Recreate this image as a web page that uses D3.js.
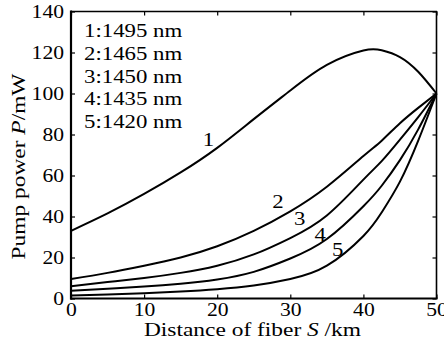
<!doctype html>
<html>
<head>
<meta charset="utf-8">
<script src="https://d3js.org/d3.v7.min.js"></script>
<style>
  body { margin: 0; background: #fff; }
  text { font-family: "Liberation Serif", "DejaVu Serif", serif; fill: #000; }
</style>
</head>
<body>
<svg id="chart" width="444" height="349"></svg>
<script>
// distance along the fiber, km
var distance = [0, 5, 10, 15, 20, 25, 30, 35, 40, 42.5, 45, 47.5, 50];
// pump power, mW, one list per pump wavelength
var pump1 = [33, 41.5, 51, 61.5, 73.5, 87.5, 101.5, 114, 121, 121.1, 117.8, 110.6, 100];
var pump2 = [9.5, 12.5, 16, 20, 25.5, 33, 42.5, 54.5, 69.5, 77, 85.5, 93, 100];
var pump3 = [6, 8, 10, 12.5, 16, 21.5, 29.5, 40.5, 58, 67, 77.5, 88.5, 100];
var pump4 = [3.8, 4.8, 5.8, 7.2, 9.3, 13, 19.5, 29, 45, 55, 67.5, 82.5, 100];
var pump5 = [1.5, 2, 2.6, 3.4, 4.5, 6.3, 9.5, 16, 30.5, 42, 57, 77, 100];
var series = [pump1, pump2, pump3, pump4, pump5];
var seriesNames = ["1", "2", "3", "4", "5"];
var wavelengths = [1495, 1465, 1450, 1435, 1420];
// where each curve number sits [S, P]
var labelAt = [[18.8, 77.4], [28.3, 47.6], [31.3, 39.2], [34.1, 31.1], [36.5, 23.8]];
var xTicks = [0, 10, 20, 30, 40, 50];
var yTicks = [0, 20, 40, 60, 80, 100, 120, 140];

var STRETCH = 1.2;  // the original font is wider than Times

var svg = d3.select('#chart');
var x = d3.scaleLinear().domain([0, 50]).range([71, 436.5]);
var y = d3.scaleLinear().domain([0, 140]).range([298.5, 11.5]);

// axes with inward ticks on all four sides
var gb = svg.append('g').attr('transform', 'translate(0,298.5)')
  .call(d3.axisBottom(x).tickValues(xTicks).tickSizeInner(-4).tickSizeOuter(0).tickPadding(5));
var gt = svg.append('g').attr('transform', 'translate(0,11.5)')
  .call(d3.axisTop(x).tickValues(xTicks).tickSizeInner(-4).tickSizeOuter(0).tickFormat(''));
var gl = svg.append('g').attr('transform', 'translate(71,0)')
  .call(d3.axisLeft(y).tickValues(yTicks).tickSizeInner(-4).tickSizeOuter(0).tickPadding(7));
var gr = svg.append('g').attr('transform', 'translate(436.5,0)')
  .call(d3.axisRight(y).tickValues(yTicks).tickSizeInner(-4).tickSizeOuter(0).tickFormat(''));

[gb, gt, gl, gr].forEach(g => {
  g.select('.domain').remove();
  g.selectAll('line').attr('stroke', '#000').attr('stroke-width', 1.2);
  g.selectAll('text').attr('font-size', 18).attr('font-family', null);
});

// frame
svg.append('line').attr('x1', 71).attr('x2', 71).attr('y1', 10.5).attr('y2', 299.5)
  .attr('stroke', '#000').attr('stroke-width', 2.2);
svg.append('line').attr('x1', 70).attr('x2', 437.5).attr('y1', 298.5).attr('y2', 298.5)
  .attr('stroke', '#000').attr('stroke-width', 2.2);
svg.append('line').attr('x1', 71).attr('x2', 437).attr('y1', 11.5).attr('y2', 11.5)
  .attr('stroke', '#000').attr('stroke-width', 1.6);
svg.append('line').attr('x1', 436.5).attr('x2', 436.5).attr('y1', 11).attr('y2', 299)
  .attr('stroke', '#000').attr('stroke-width', 1.6);

// curves
var line = d3.line()
  .x((d, i) => x(distance[i]))
  .y(d => y(d))
  .curve(d3.curveNatural);

svg.selectAll('path.curve')
  .data(series)
  .enter()
  .append('path')
  .attr('class', 'curve')
  .attr('d', line)
  .attr('fill', 'none')
  .attr('stroke', '#000')
  .attr('stroke-width', 2);

// curve numbers
svg.selectAll('text.num')
  .data(labelAt)
  .enter()
  .append('text')
  .attr('class', 'num')
  .attr('x', d => x(d[0]))
  .attr('y', d => y(d[1]))
  .attr('dy', '0.35em')
  .attr('text-anchor', 'middle')
  .attr('font-size', 19)
  .text((d, i) => seriesNames[i]);

// legend
svg.selectAll('text.legend')
  .data(wavelengths)
  .enter()
  .append('text')
  .attr('class', 'legend')
  .attr('x', 84)
  .attr('y', (d, i) => 37 + i * 22.8)
  .attr('font-size', 19)
  .text((d, i) => seriesNames[i] + ':' + d + ' nm');

// axis titles
var xt = svg.append('text')
  .attr('x', 252.5).attr('y', 336)
  .attr('text-anchor', 'middle')
  .attr('font-size', 19.5);
xt.append('tspan').text('Distance of fiber ');
xt.append('tspan').attr('font-style', 'italic').text('S');
xt.append('tspan').text(' /km');

var yt = svg.append('text')
  .attr('transform', 'translate(25,166.5) rotate(-90)')
  .attr('text-anchor', 'middle')
  .attr('font-size', 19.5);
yt.append('tspan').text('Pump power ');
yt.append('tspan').attr('font-style', 'italic').text('P');
yt.append('tspan').text('/mW');

// widen every label a bit
svg.selectAll('text').each(function () {
  var len = this.getComputedTextLength();
  d3.select(this).attr('textLength', len * STRETCH).attr('lengthAdjust', 'spacingAndGlyphs');
});
</script>
</body>
</html>
